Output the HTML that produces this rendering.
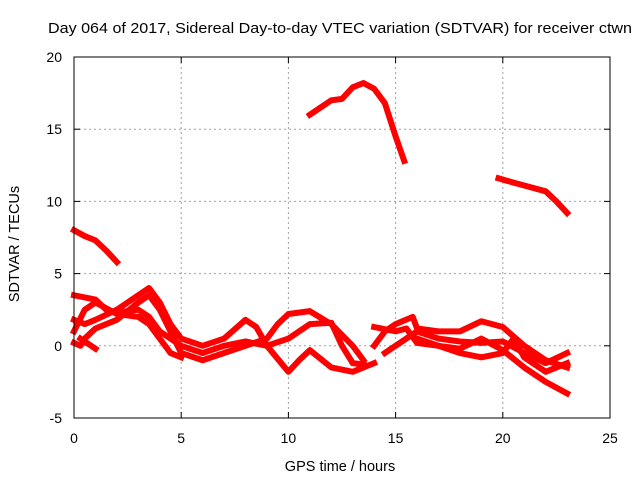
<!DOCTYPE html>
<html><head><meta charset="utf-8"><style>
body{margin:0;background:#fff}
svg{font-family:"Liberation Sans",sans-serif;font-size:14px}
</style></head><body>
<svg id="c" width="640" height="480">
<text x="340" y="33" text-anchor="middle" textLength="584" lengthAdjust="spacingAndGlyphs" style="font-size:15px">Day 064 of 2017, Sidereal Day-to-day VTEC variation (SDTVAR) for receiver ctwn</text>
<text x="340" y="471" text-anchor="middle" style="font-size:14.5px">GPS time / hours</text>
<text transform="translate(19,244) rotate(-90)" text-anchor="middle" style="font-size:14.5px">SDTVAR / TECUs</text>
<g id="grid"></g><g id="series"></g>
<rect x="74" y="57" width="536" height="361" fill="none" stroke="#000" stroke-width="1"/>
</svg>
<script>
const xTicks=[0,5,10,15,20,25];
const yTicks=[-5,0,5,10,15,20];
const sTop=[[11,16],[11.5,16.5],[12,17],[12.5,17.1],[13,17.9],[13.5,18.2],[14,17.8],[14.5,16.8],[15,14.5],[15.4,12.8]];
const sRight=[[19.8,11.6],[20.5,11.3],[21,11.1],[22,10.7],[22.5,10],[23,9.2]];
const sLeft=[[0,8],[0.5,7.6],[1,7.3],[1.5,6.6],[2,5.8]];
const sA=[[0,3.5],[1,3.2],[1.5,2.5],[2,2.3],[3,2.5],[3.5,2],[4,1],[5,0],[6,-0.5],[7,0],[8,0.3],[9,0],[10,0.5],[11,1.5],[12,1.6],[12.5,0],[13,-1.2],[13.5,-1.3]];
const sB=[[0,1.8],[0.5,1.5],[1,1.8],[2,2.5],[3,3.5],[3.5,4],[4,3],[4.5,1.5],[5,0.5],[6,0],[7,0.5],[8,1.8],[8.5,1.3],[9,0],[10,-1.8],[10.5,-1],[11,-0.3],[12,-1.5],[13,-1.8],[14,-1.2]];
const sC=[[0,0.2],[0.3,0],[0.5,0.5],[1,1.2],[2,1.8],[3,3],[3.5,3.5],[4,2.5],[4.5,1],[5,-0.5],[6,-1],[7,-0.5],[8,0],[9,0.5],[9.5,1.5],[10,2.2],[11,2.4],[12,1.5],[13,0],[13.5,-1]];
const sD=[[0,1],[0.5,2.5],[1,3],[2,2.2],[3,2],[3.5,1.5],[4,0.5],[4.5,-0.5],[5,-0.8]];
const sE=[[0.3,0.5],[1,-0.2]];
const sF=[[14,1.3],[15,1],[15.5,1.2],[16,0.2],[17,0],[18,-0.2],[19,0.5],[20,-0.3],[21,-1.5],[22,-2.5],[23,-3.3]];
const sG=[[14,0],[14.5,1],[15,1.5],[15.8,2],[16,1.2],[17,1],[18,1],[19,1.7],[20,1.3],[21,0],[22,-1],[23,-1.5]];
const sH=[[14.5,-0.5],[15,0],[16,1],[17,0.5],[18,0.3],[19,0.2],[20,0.3],[21,-0.5],[22,-1.2],[23,-0.5]];
const sI=[[16,0.5],[18,-0.5],[19,-0.8],[20,-0.5],[20.5,0.5],[21,-0.8],[22,-1.8],[23,-1.2]];
const allSeries=[sTop,sRight,sLeft,sA,sB,sC,sD,sE,sF,sG,sH,sI];
const X=h=>74+(h/25)*536;
const Y=v=>418-((v+5)/25)*361;
const NS="http://www.w3.org/2000/svg";
const grid=document.getElementById('grid'),ser=document.getElementById('series');
function mk(tag,attrs,parent){const e=document.createElementNS(NS,tag);for(const k in attrs)e.setAttribute(k,attrs[k]);parent.appendChild(e);return e;}
xTicks.forEach(t=>{
 const x=X(t);
 if(t>0&&t<25){const l=mk('line',{x1:x,x2:x,y1:57,y2:418,stroke:'#a0a0a0','stroke-dasharray':'2,3'},grid);
 
 }
 mk('line',{x1:x,x2:x,y1:418,y2:412,stroke:'#000'},grid);
 mk('line',{x1:x,x2:x,y1:57,y2:63,stroke:'#000'},grid);
 const tx=mk('text',{x:x,y:443,'text-anchor':'middle'},grid);tx.textContent=t;
 
 
});
yTicks.forEach(t=>{
 const y=Y(t);
 if(t>-5&&t<20){const l=mk('line',{x1:74,x2:610,y1:y,y2:y,stroke:'#a0a0a0','stroke-dasharray':'2,3'},grid);
 
 }
 mk('line',{x1:74,x2:80,y1:y,y2:y,stroke:'#000'},grid);
 mk('line',{x1:604,x2:610,y1:y,y2:y,stroke:'#000'},grid);
 const tx=mk('text',{x:62,y:y+5,'text-anchor':'end'},grid);tx.textContent=t;
 
 
});
allSeries.forEach(s=>{
 const p=mk('polyline',{points:s.map(d=>X(d[0])+','+Y(d[1])).join(' '),fill:'none',stroke:'#ff0000','stroke-width':6,'stroke-linejoin':'round','stroke-linecap':'square'},ser);
 
 
});
</script>
</body></html>
